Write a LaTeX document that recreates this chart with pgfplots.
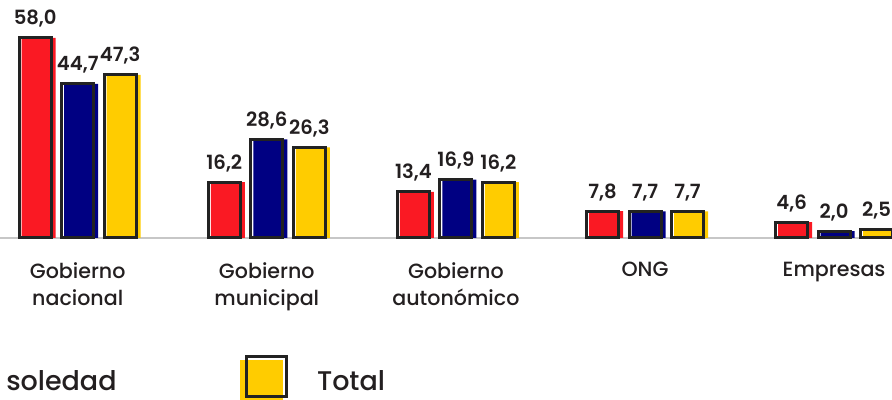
\documentclass[border=0pt]{standalone}
\usepackage{pgfplots}
\pgfplotsset{compat=1.18}
\usepackage{fontspec}
\setmainfont{Poppins}[UprightFont=* Medium, BoldFont=* SemiBold]
\definecolor{redc}{RGB}{250,25,35}
\definecolor{bluec}{RGB}{0,0,130}
\definecolor{yellowc}{RGB}{255,204,0}
\definecolor{outl}{RGB}{34,34,34}
\definecolor{textc}{RGB}{35,31,32}
\begin{document}
\begin{tikzpicture}
\useasboundingbox (0pt,-81pt) rectangle (446pt,119pt);
\clip (0pt,-81pt) rectangle (446pt,119pt);
\begin{axis}[
  at={(0pt,0pt)}, anchor=south west,
  scale only axis, width=446pt, height=119pt,
  xmin=-0.4109, xmax=4.3062, ymin=0, ymax=68.99,
  axis y line=none, axis x line=bottom,
  axis line style={draw=black!22, line width=0.6pt, -},
  xtick={0,1,2,3,4},
  xticklabels={{Gobierno\\nacional},{Gobierno\\municipal},{Gobierno\\autonómico},{ONG},{Empresas}},
  xticklabel style={align=center, anchor=north, inner sep=0pt, yshift=-12pt,
    font=\fontsize{10.3}{13.5}\selectfont, text=textc},
  major tick length=0pt,
  clip=false,
  /pgf/number format/assume math mode=true,
  every node near coord/.append style={anchor=base, inner sep=0pt, yshift=6.5pt,
    font=\fontsize{9.8}{12}\selectfont\bfseries, text=textc},
  legend columns=3,
  legend style={at={(0.4316,-0.5925)}, anchor=east, draw=none, fill=none,
    inner sep=0pt, outer sep=0pt, nodes={inner sep=0pt},
    font=\fontsize{13.5}{16}\selectfont, text=textc,
    /tikz/every odd column/.append style={column sep=14.5pt},
    /tikz/every even column/.append style={column sep=61.5pt}},
  legend cell align=left,
]
% fill bars (shifted right)
\addplot[ybar, bar width=17pt, bar shift=-19.5pt, fill=redc, draw=none, forget plot]
  coordinates {(0,58.0) (1,16.2) (2,13.4) (3,7.8) (4,4.6)};
\addplot[ybar, bar width=17pt, bar shift=1.75pt, fill=bluec, draw=none, forget plot]
  coordinates {(0,44.7) (1,28.6) (2,16.9) (3,7.7) (4,2.0)};
\addplot[ybar, bar width=17pt, bar shift=23pt, fill=yellowc, draw=none, forget plot]
  coordinates {(0,47.3) (1,26.3) (2,16.2) (3,7.7) (4,2.5)};
% outlines with value labels
\addplot[ybar, bar width=16pt, bar shift=-21.25pt, draw=outl, line width=1.5pt, fill=none, forget plot,
  nodes near coords={\pgfmathprintnumber[fixed,fixed zerofill,precision=1,use comma]{\pgfplotspointmeta}},
  nodes near coords style={xshift=-21.25pt}]
  coordinates {(0,58.0) (1,16.2) (2,13.4) (3,7.8) (4,4.6)};
\addplot[ybar, bar width=16pt, bar shift=0pt, draw=outl, line width=1.5pt, fill=none, forget plot,
  nodes near coords={\pgfmathprintnumber[fixed,fixed zerofill,precision=1,use comma]{\pgfplotspointmeta}}]
  coordinates {(0,44.7) (1,28.6) (2,16.9) (3,7.7) (4,2.0)};
\addplot[ybar, bar width=16pt, bar shift=21.25pt, draw=outl, line width=1.5pt, fill=none, forget plot,
  nodes near coords={\pgfmathprintnumber[fixed,fixed zerofill,precision=1,use comma]{\pgfplotspointmeta}},
  nodes near coords style={xshift=21.25pt}]
  coordinates {(0,47.3) (1,26.3) (2,16.2) (3,7.7) (4,2.5)};
\addlegendimage{legend image code/.code={
  \fill[redc] (-2.5pt,-10.5pt) rectangle (18.5pt,10.5pt);
  \draw[outl, line width=1.5pt] (0.75pt,-7.25pt) rectangle (20.75pt,12.75pt);}}
\addlegendimage{legend image code/.code={
  \fill[bluec] (-2.5pt,-10.5pt) rectangle (18.5pt,10.5pt);
  \draw[outl, line width=1.5pt] (0.75pt,-7.25pt) rectangle (20.75pt,12.75pt);}}
\addlegendimage{legend image code/.code={
  \fill[yellowc] (-2.5pt,-10.5pt) rectangle (18.5pt,10.5pt);
  \draw[outl, line width=1.5pt] (0.75pt,-7.25pt) rectangle (20.75pt,12.75pt);}}
\legend{Con soledad, Sin soledad, Total}
\end{axis}
\end{tikzpicture}
\end{document}
